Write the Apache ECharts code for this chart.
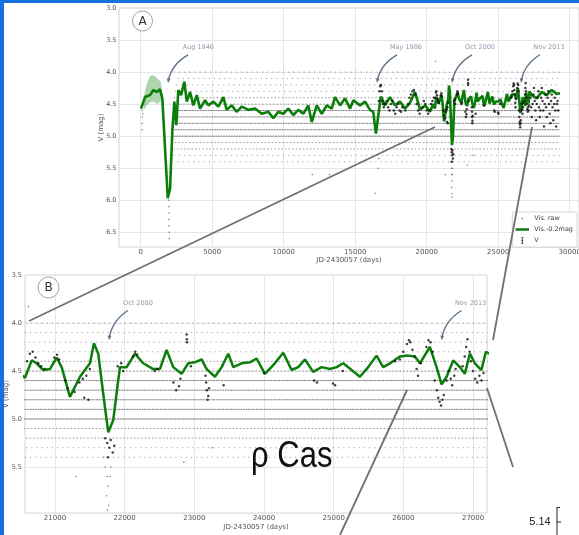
<!DOCTYPE html>
<html><head><meta charset="utf-8">
<script src="https://cdn.jsdelivr.net/npm/echarts@6/dist/echarts.min.js"></script>
<style>html,body{margin:0;padding:0;background:#fff}#c{width:579px;height:535px}</style>
</head><body><div id="c"></div>
<script>
// ---- smoothed visual light curve (Vis.-0.2mag) ----
const greenX = [20,300,650,880,1120,1350,1510,1700,1890,2050,2210,2350,2490,2630,2820,3050,3220,3450,3680,3920,4150,4500,4730,5080,5430,5780,6010,6360,6710,7060,7530,8000,8460,8930,9270,9620,9970,10320,10670,11020,11370,11720,11960,12310,12660,13010,13360,13590,13940,14290,14640,14870,14990,15340,15690,16030,16260,16450,16620,16800,17080,17430,17780,18130,18480,18830,19180,19540,19890,20230,20450,20570,20666,20737,20832,20928,21024,21096,21215,21359,21430,21502,21560,21621,21693,21765,21837,21895,21933,22029,22148,22267,22410,22506,22602,22697,22817,22913,23008,23105,23177,23296,23392,23487,23559,23678,23798,23894,24013,24132,24276,24396,24491,24587,24706,24826,24946,25042,25137,25257,25376,25495,25615,25710,25830,25950,26069,26165,26237,26380,26476,26548,26620,26715,26811,26882,26954,27026,27120,27184,27340,27690,28040,28390,28740,29090,29320];
const greenMag = [4.57,4.39,4.36,4.28,4.31,4.27,4.41,5.19,5.97,5.82,4.93,4.46,4.83,4.28,4.36,4.15,4.46,4.31,4.52,4.36,4.57,4.44,4.52,4.46,4.54,4.39,4.59,4.52,4.62,4.54,4.59,4.57,4.65,4.62,4.72,4.62,4.65,4.57,4.67,4.59,4.65,4.52,4.78,4.52,4.65,4.52,4.57,4.39,4.52,4.41,4.57,4.44,4.41,4.52,4.46,4.59,4.62,4.96,4.67,4.38,4.52,4.39,4.52,4.46,4.57,4.48,4.31,4.59,4.52,4.62,4.50,4.57,4.39,4.42,4.49,4.48,4.36,4.46,4.77,4.56,4.49,4.42,4.21,4.32,4.74,5.14,5.01,4.67,4.46,4.46,4.32,4.42,4.48,4.48,4.28,4.46,4.53,4.42,4.41,4.38,4.48,4.56,4.46,4.32,4.46,4.42,4.41,4.37,4.53,4.44,4.31,4.49,4.46,4.38,4.51,4.46,4.48,4.46,4.42,4.49,4.56,4.46,4.34,4.46,4.41,4.35,4.34,4.35,4.42,4.25,4.46,4.64,4.56,4.39,4.46,4.53,4.32,4.42,4.49,4.30,4.36,4.41,4.31,4.36,4.28,4.34,4.33];
// early uncertainty band
const bandX = [200,400,650,900,1150,1400,1550];
const bandBright = [4.40,4.20,4.06,4.05,4.10,4.15,4.38];
const bandFaint = [4.60,4.52,4.47,4.46,4.50,4.45,4.45];
// ---- photoelectric V ----
const vX = [16650,16700,16750,16800,16850,16900,16950,17000,17100,17200,17300,17400,17500,17600,17700,17800,17900,18000,18100,18200,18300,18500,18700,18800,18900,19000,19100,19200,19300,19400,19500,19700,19800,19900,20000,20100,20200,20300,20400,20500,20600,20640,20680,20720,20760,20800,20850,20990,21030,21060,21150,21180,21280,21350,21400,21420,21450,21480,21500,21720,21750,21760,21780,21800,21830,21850,21900,21950,21980,22120,22150,22180,22430,22470,22700,22740,22780,22800,22890,22892,22895,22950,23160,23170,23180,23190,23200,23210,23420,24000,24720,24760,24990,25020,25130,25880,25950,26000,26050,26080,26100,26130,26160,26190,26210,26250,26330,26360,26390,26420,26450,26480,26500,26520,26540,26560,26580,26620,26650,26680,26700,26730,26750,26850,26880,26900,26920,26950,26970,27000,27030,27060,27090,27120,27150,27250,27300,27350,27400,27450,27500,27550,27600,27650,27700,27750,27800,27850,27900,27950,28000,28050,28100,28150,28200,28250,28300,28350,28400,28450,28500,28550,28600,28650,28700,28750,28800,28850,28900,28950,29000,29050,29100,29150,29200];
const vMag = [4.45,4.30,4.22,4.20,4.30,4.45,4.50,4.55,4.50,4.45,4.55,4.60,4.50,4.45,4.60,4.65,4.55,4.50,4.60,4.62,4.55,4.60,4.50,4.40,4.35,4.30,4.28,4.35,4.50,4.60,4.65,4.55,4.45,4.50,4.60,4.65,4.60,4.50,4.45,4.40,4.40,4.32,4.30,4.36,4.42,4.45,4.48,4.36,4.33,4.38,4.60,4.68,4.72,4.62,4.58,4.78,4.55,4.80,4.48,5.20,5.25,5.40,5.30,5.22,5.35,5.28,4.45,4.42,4.50,4.35,4.30,4.33,4.50,4.48,4.62,4.70,4.66,4.58,4.12,4.17,4.20,4.45,4.55,4.62,4.70,4.80,4.76,4.68,4.65,4.52,4.60,4.62,4.63,4.65,4.50,4.40,4.38,4.30,4.22,4.18,4.20,4.28,4.35,4.48,4.55,4.42,4.25,4.18,4.20,4.30,4.60,4.70,4.78,4.82,4.86,4.80,4.75,4.60,4.50,4.58,4.65,4.55,4.48,4.45,4.35,4.25,4.17,4.30,4.40,4.50,4.58,4.62,4.55,4.60,4.52,4.40,4.55,4.70,4.50,4.35,4.25,4.45,4.60,4.75,4.50,4.40,4.30,4.55,4.70,4.60,4.40,4.25,4.45,4.60,4.85,4.50,4.35,4.55,4.70,4.40,4.30,4.50,4.65,4.80,4.45,4.35,4.55,4.75,4.50,4.40,4.60,4.85,4.50,4.45,4.60];
// ---- raw visual estimates (0.1 mag rows) ----
const rawDenseMag = [4.6,4.7,4.8,4.9,5.0];
const rawMediumMag = [4.4,4.5,5.1,5.2];
const rawSparseMag = [4.0,4.1,4.2,4.3,5.3,5.4];
const rawSpanX = [2300,29300];
const rawExtraX = [100,100,100,100,150,1950,1950,1980,1980,1960,1970,1990,2000,2050,2100,2150,2200,21700,21720,21750,21760,21740,21770,21750,21800,21790,16390,12000,13200,20620,21300,22850,23250,16600,16650];
const rawExtraMag = [4.6,4.7,4.8,4.9,4.65,5.9,6.0,6.1,6.2,6.3,6.4,6.5,6.6,5.7,5.5,5.3,5.1,5.4,5.5,5.6,5.7,5.8,5.9,5.95,5.5,5.6,5.89,5.6,5.6,3.83,5.6,5.45,5.3,5.5,5.35];
// ---- annotations ----
const annoALabel = ['Aug 1946','May 1986','Oct 2000','Nov 2013'];
const annoATextX = [4028,18550,23727,28552];
const annoATextMag = [3.62,3.62,3.62,3.62];
const annoAFromX = [3308,17923,23168,27923];
const annoAFromMag = [3.73,3.73,3.73,3.73];
const annoAToX = [1909,16524,21769,26594];
const annoAToMag = [4.17,4.17,4.17,4.17];
const annoBLabel = ['Oct 2000','Nov 2013'];
const annoBTextX = [22191,26964];
const annoBTextMag = [3.80,3.80];
const annoBFromX = [22047,26835];
const annoBFromMag = [3.87,3.87];
const annoBToX = [21775,26548];
const annoBToMag = [4.18,4.18];

const zip = (xs, ys) => xs.map((x, i) => [x, ys[i]]);
const FONT = 'DejaVu Sans';
const rowStyles = {
  dense: {type:[2,0.6], opacity:0.7},
  medium: {type:[1.6,2], opacity:0.55},
  sparse: {type:[1.2,4], opacity:0.5}
};

function annoRender(labels) {
  return function (params, api) {
    const i = params.dataIndex;
    const t = api.coord([api.value(0), api.value(1)]);
    const p1 = api.coord([api.value(2), api.value(3)]);
    const p2 = api.coord([api.value(4), api.value(5)]);
    const cp = [p2[0] + 0.15 * (p1[0] - p2[0]), p1[1] + 0.35 * (p2[1] - p1[1])];
    const dx = p2[0] - cp[0], dy = p2[1] - cp[1];
    const len = Math.sqrt(dx*dx + dy*dy) || 1;
    const ux = dx/len, uy = dy/len;
    const L = 4.5, W = 1.8;
    const head = [[p2[0], p2[1]], [p2[0] - ux*L - uy*W, p2[1] - uy*L + ux*W], [p2[0] - ux*L + uy*W, p2[1] - uy*L - ux*W]];
    return {type:'group', children:[
      {type:'bezierCurve', shape:{x1:p1[0], y1:p1[1], x2:p2[0]-ux*2, y2:p2[1]-uy*2, cpx1:cp[0], cpy1:cp[1]},
       style:{stroke:'#5e7187', lineWidth:1.4, fill:null}},
      {type:'polygon', shape:{points:head}, style:{fill:'#5e7187'}},
      {type:'text', x:t[0], y:t[1], style:{text:labels[i], font:'6.5px "DejaVu Sans"', fill:'#8d9aab', align:'center', verticalAlign:'middle'}}
    ]};
  };
}

const series = [];
[0,1].forEach(gi => {
  const add = (mags, cls) => mags.forEach((m, k) => series.push({
    type:'line', name:'Vis. raw', xAxisIndex:gi, yAxisIndex:gi, symbol:'none', silent:true,
    data:[[rawSpanX[0], m],[rawSpanX[1], m]],
    lineStyle:{color:'#4a4a4a', width:1, type:rowStyles[cls].type, dashOffset:k*1.3, opacity:rowStyles[cls].opacity},
    animation:false, z:1
  }));
  add(rawDenseMag,'dense'); add(rawMediumMag,'medium'); add(rawSparseMag,'sparse');
  series.push({type:'scatter', name:'Vis. raw', xAxisIndex:gi, yAxisIndex:gi, data:zip(rawExtraX, rawExtraMag),
    symbolSize:1.6, itemStyle:{color:'#666'}, silent:true, animation:false, z:1});
  if (gi === 0) {
    series.push({type:'custom', name:'band', xAxisIndex:0, yAxisIndex:0, silent:true, animation:false, z:2, clip:true,
      data:bandX.map((x,i)=>[x, bandBright[i], bandFaint[i]]), encode:{x:0, y:[1,2]},
      renderItem:(params, api) => {
        if (params.dataIndex !== 0) return null;
        const pts = [];
        for (let i = 0; i < bandX.length; i++) pts.push(api.coord([bandX[i], bandBright[i]]));
        for (let i = bandX.length - 1; i >= 0; i--) pts.push(api.coord([bandX[i], bandFaint[i]]));
        return {type:'polygon', shape:{points:pts}, style:{fill:'rgba(0,128,0,0.32)'}};
      }});
  }
  series.push({type:'line', name:'Vis.-0.2mag', xAxisIndex:gi, yAxisIndex:gi, symbol:'none', silent:true,
    data:zip(greenX, greenMag), lineStyle:{color:'#0a7d0a', width: gi===0 ? 2.6 : 2.5}, animation:false, z:3});
  series.push({type:'scatter', name:'V', xAxisIndex:gi, yAxisIndex:gi, data:zip(vX, vMag),
    symbolSize:2.5, itemStyle:{color:'#111'}, silent:true, animation:false, z:4});
  const L = gi===0 ? annoALabel : annoBLabel;
  const TX = gi===0 ? annoATextX : annoBTextX, TM = gi===0 ? annoATextMag : annoBTextMag;
  const FX = gi===0 ? annoAFromX : annoBFromX, FM = gi===0 ? annoAFromMag : annoBFromMag;
  const EX = gi===0 ? annoAToX : annoBToX, EM = gi===0 ? annoAToMag : annoBToMag;
  series.push({type:'custom', name:'anno', xAxisIndex:gi, yAxisIndex:gi, silent:true, animation:false, z:5, clip:false,
    data:L.map((t,i)=>[TX[i], TM[i], FX[i], FM[i], EX[i], EM[i]]), encode:{x:[0,2,4], y:[1,3,5]},
    renderItem:annoRender(L)});
});

const axisLbl = {fontSize:7, color:'#555', fontFamily:FONT};
const yAxisLbl = {fontSize:6.5, color:'#555', fontFamily:FONT};
const splitL = {show:true, lineStyle:{color:'#e6e6e6', width:1}};
const xFmt = step => v => (Math.abs(v % step) < 1e-6 ? String(v) : '');
const yFmt = v => (Math.abs(v*2 - Math.round(v*2)) < 1e-6 ? v.toFixed(1) : '');

const svg = s => 'image://data:image/svg+xml;utf8,' + encodeURIComponent("<svg xmlns='http://www.w3.org/2000/svg' width='14' height='7' viewBox='0 0 14 7'>" + s + "</svg>");
const iconRaw = svg("<circle cx='7' cy='3.5' r='0.8' fill='#777'/>");
const iconGreen = svg("<line x1='0' y1='3.5' x2='14' y2='3.5' stroke='#0a7d0a' stroke-width='2.5'/>");
const iconV = svg("<line x1='7' y1='0.6' x2='7' y2='6.4' stroke='#111' stroke-width='0.8'/><line x1='5.8' y1='0.6' x2='8.2' y2='0.6' stroke='#111' stroke-width='0.8'/><line x1='5.8' y1='6.4' x2='8.2' y2='6.4' stroke='#111' stroke-width='0.8'/><circle cx='7' cy='3.5' r='0.9' fill='#111'/>");

const option = {
  animation:false,
  backgroundColor:'#fff',
  grid:[
    {left:119, top:8, right:0, bottom:288, show:true, borderColor:'#d6d6d6', borderWidth:1, outerBoundsMode:'none', containLabel:false},
    {left:25, top:275, right:92, bottom:22, show:true, borderColor:'#d6d6d6', borderWidth:1, outerBoundsMode:'none', containLabel:false}
  ],
  xAxis:[
    {type:'value', gridIndex:0, min:-1520, max:30650, splitNumber:6,
     axisLine:{show:false}, axisTick:{show:false}, splitLine:splitL,
     axisLabel:Object.assign({margin:1.5, formatter:xFmt(5000)}, axisLbl),
     name:'JD-2430057 (days)', nameLocation:'middle', nameGap:9, nameTextStyle:axisLbl},
    {type:'value', gridIndex:1, min:20570, max:27200, splitNumber:6,
     axisLine:{show:false}, axisTick:{show:false}, splitLine:splitL,
     axisLabel:Object.assign({margin:2, formatter:xFmt(1000)}, axisLbl),
     name:'JD-2430057 (days)', nameLocation:'middle', nameGap:11, nameTextStyle:axisLbl}
  ],
  yAxis:[
    {type:'value', gridIndex:0, inverse:true, min:3.0, max:6.73, interval:0.5,
     axisLine:{show:false}, axisTick:{show:false}, splitLine:splitL,
     axisLabel:Object.assign({margin:2.5, formatter:yFmt}, yAxisLbl),
     name:'V (mag)', nameLocation:'middle', nameGap:14, nameMoveOverlap:false, nameTextStyle:axisLbl},
    {type:'value', gridIndex:1, inverse:true, min:3.5, max:5.98, interval:0.5,
     axisLine:{show:false}, axisTick:{show:false}, splitLine:splitL,
     axisLabel:Object.assign({margin:3, formatter:yFmt}, yAxisLbl),
     name:'V (mag)', nameLocation:'middle', nameGap:15.5, nameMoveOverlap:false, nameTextStyle:axisLbl}
  ],
  legend:{
    data:[{name:'Vis. raw', icon:iconRaw},{name:'Vis.-0.2mag', icon:iconGreen},{name:'V', icon:iconV}],
    orient:'vertical', right:2, top:212, itemWidth:14, itemHeight:7, itemGap:4, padding:[3,4,3,3],
    textStyle:{fontSize:6.5, color:'#444', fontFamily:FONT}, borderColor:'#cccccc', borderWidth:0.8,
    borderRadius:2, backgroundColor:'#ffffff', selectedMode:false, z:20
  },
  series:series,
  graphic:[
    {type:'rect', shape:{x:0,y:0,width:4,height:535}, style:{fill:'#1670e0'}, z:50},
    {type:'rect', shape:{x:0,y:0,width:579,height:3}, style:{fill:'#1670e0'}, z:50},
    {type:'circle', shape:{cx:142.5, cy:21, r:10}, style:{fill:'#fff', stroke:'#8a8a8a', lineWidth:0.8}, z:40},
    {type:'text', x:142.5, y:21.5, style:{text:'A', font:'12px "DejaVu Sans"', fill:'#333', align:'center', verticalAlign:'middle'}, z:41},
    {type:'circle', shape:{cx:48.5, cy:287.5, r:10.5}, style:{fill:'#fff', stroke:'#8a8a8a', lineWidth:0.8}, z:40},
    {type:'text', x:48.5, y:288, style:{text:'B', font:'12px "DejaVu Sans"', fill:'#333', align:'center', verticalAlign:'middle'}, z:41},
    {type:'line', shape:{x1:29,y1:321,x2:435,y2:127}, style:{stroke:'#707070', lineWidth:1.8}, z:45},
    {type:'line', shape:{x1:493,y1:340,x2:532,y2:127}, style:{stroke:'#707070', lineWidth:1.8}, z:45},
    {type:'line', shape:{x1:407,y1:390,x2:340,y2:535}, style:{stroke:'#707070', lineWidth:1.8}, z:45},
    {type:'line', shape:{x1:487,y1:388,x2:513,y2:467}, style:{stroke:'#707070', lineWidth:1.8}, z:45},
    {type:'text', x:251, y:457, scaleY:1.18, style:{text:'ρ Cas', font:'31px "Liberation Sans"', fill:'#111', align:'left', verticalAlign:'middle'}, z:46},
    {type:'text', x:540, y:522, style:{text:'5.14', font:'11px "Liberation Sans"', fill:'#222', align:'center', verticalAlign:'middle'}, z:46},
    {type:'line', shape:{x1:557,y1:507,x2:557,y2:535}, style:{stroke:'#222', lineWidth:1}, z:46},
    {type:'line', shape:{x1:557,y1:522,x2:561,y2:522}, style:{stroke:'#222', lineWidth:1}, z:46},
    {type:'line', shape:{x1:557,y1:507.5,x2:560,y2:507.5}, style:{stroke:'#222', lineWidth:1}, z:46}
  ]
};
const chart = echarts.init(document.getElementById('c'), null, {renderer:'canvas'});
chart.setOption(option);
</script></body></html>
